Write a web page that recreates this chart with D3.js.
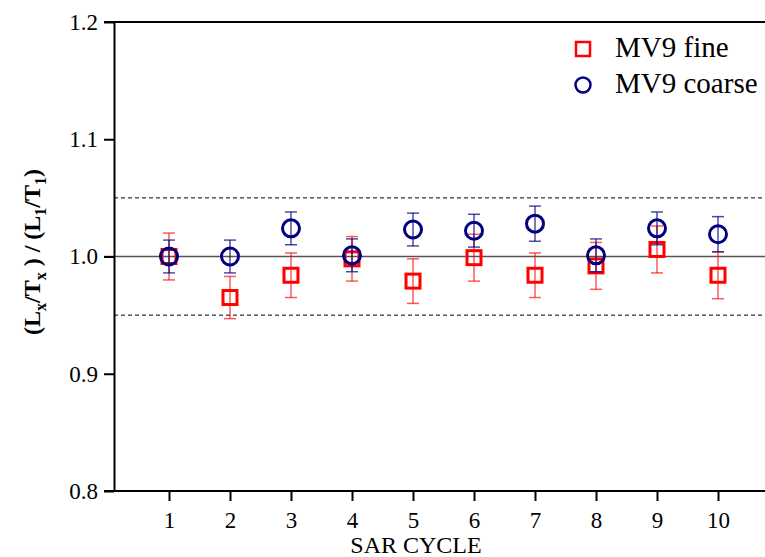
<!DOCTYPE html>
<html>
<head>
<meta charset="utf-8">
<script src="https://cdn.jsdelivr.net/npm/d3@7/dist/d3.min.js"></script>
<style>
  html, body { margin: 0; padding: 0; background: #fff; }
  svg { display: block; }
</style>
</head>
<body>
<svg id="chart" width="765" height="557"></svg>
<script>
// ---- data ----
const cycles = [1, 2, 3, 4, 5, 6, 7, 8, 9, 10];
const fineValues = [1.000, 0.965, 0.984, 0.998, 0.979, 0.999, 0.984, 0.992, 1.006, 0.984];
const fineErrors = [0.020, 0.018, 0.019, 0.019, 0.019, 0.020, 0.019, 0.020, 0.020, 0.020];
const coarseValues = [1.000, 1.000, 1.024, 1.001, 1.023, 1.022, 1.028, 1.001, 1.024, 1.019];
const coarseErrors = [0.014, 0.014, 0.014, 0.014, 0.014, 0.014, 0.015, 0.014, 0.014, 0.015];
const yTicks = [0.8, 0.9, 1.0, 1.1, 1.2];
const xTicks = [1, 2, 3, 4, 5, 6, 7, 8, 9, 10];
const seriesNames = ["MV9 fine", "MV9 coarse"];
const refLine = 1.0;
const bandLines = [0.95, 1.05];

(function () {
const FONT = "'Liberation Serif', 'Times New Roman', 'DejaVu Serif', serif";
const svg = d3.select("#chart");
const pLeft = 114, pRight = 765, pTop = 22, pBottom = 491;
const x = d3.scaleLinear().domain([0, 10]).range([108, 718]);
const y = d3.scaleLinear().domain([0.8, 1.2]).range([pBottom, pTop]);
const RED = "#ff0000", NAVY = "#000080";

// reference lines
svg.selectAll("line.band").data(bandLines).enter().append("line")
  .attr("x1", pLeft).attr("x2", pRight)
  .attr("y1", d => y(d)).attr("y2", d => y(d))
  .attr("stroke", "#000").attr("stroke-width", 1)
  .attr("stroke-dasharray", "4,3");
svg.append("line")
  .attr("x1", pLeft - 10).attr("x2", pRight)
  .attr("y1", y(refLine)).attr("y2", y(refLine))
  .attr("stroke", "#555").attr("stroke-width", 1.5);

// axes
const yAxis = d3.axisLeft(y).tickValues(yTicks).tickFormat(d3.format(".1f"))
  .tickSize(10).tickSizeOuter(0).tickPadding(6);
const gy = svg.append("g").attr("transform", `translate(${pLeft},0)`).call(yAxis);
gy.attr("font-family", null);
gy.select(".domain").attr("stroke-width", 2);
gy.selectAll(".tick line").attr("stroke-width", 2);
gy.selectAll(".tick text").style("font-family", FONT).style("font-size", "23px").attr("fill", "#000");

const xAxis = d3.axisBottom(x).tickValues(xTicks).tickFormat(d3.format("d"))
  .tickSize(10).tickSizeOuter(0).tickPadding(11);
const gx = svg.append("g").attr("transform", `translate(0,${pBottom})`).call(xAxis);
gx.attr("font-family", null);
gx.select(".domain").remove();
gx.selectAll(".tick line").attr("stroke-width", 2);
gx.selectAll(".tick text").style("font-family", FONT).style("font-size", "23px").attr("fill", "#000");

// frame lines (top, bottom)
svg.append("line").attr("x1", pLeft - 10).attr("x2", pRight)
  .attr("y1", pTop).attr("y2", pTop).attr("stroke", "#000").attr("stroke-width", 2);
svg.append("line").attr("x1", pLeft - 10).attr("x2", pRight)
  .attr("y1", pBottom).attr("y2", pBottom).attr("stroke", "#000").attr("stroke-width", 2);

// axis titles
svg.append("text").attr("x", 416).attr("y", 553).attr("text-anchor", "middle")
  .style("font-family", FONT).style("font-size", "24px").text("SAR CYCLE");

const yl = svg.append("text")
  .attr("transform", "translate(40,252) rotate(-90)")
  .attr("text-anchor", "middle")
  .style("font-family", FONT).style("font-size", "24px").style("font-weight", "bold");
const parts = [["(L", 0], ["x", 1], ["/T", 0], ["x", 1], [" ) / (L", 0], ["1", 1], ["/T", 0], ["1", 1], [")", 0]];
let shifted = false;
parts.forEach(([t, sub]) => {
  const ts = yl.append("tspan").text(t);
  if (sub) { ts.style("font-size", "16px").attr("dy", shifted ? 0 : 6); shifted = true; }
  else { if (shifted) ts.attr("dy", -6); shifted = false; }
});

// series
const fineData = cycles.map((c, i) => ({ c, v: fineValues[i], e: fineErrors[i] }));
const coarseData = cycles.map((c, i) => ({ c, v: coarseValues[i], e: coarseErrors[i] }));

function errorBars(data, color, opacity) {
  const g = svg.append("g").attr("stroke", color).attr("stroke-width", 1.5).attr("stroke-opacity", opacity);
  g.selectAll("line.v").data(data).enter().append("line")
    .attr("x1", d => x(d.c)).attr("x2", d => x(d.c))
    .attr("y1", d => y(d.v - d.e)).attr("y2", d => y(d.v + d.e));
  g.selectAll("line.t").data(data).enter().append("line")
    .attr("x1", d => x(d.c) - 6).attr("x2", d => x(d.c) + 6)
    .attr("y1", d => y(d.v + d.e)).attr("y2", d => y(d.v + d.e));
  g.selectAll("line.b").data(data).enter().append("line")
    .attr("x1", d => x(d.c) - 6).attr("x2", d => x(d.c) + 6)
    .attr("y1", d => y(d.v - d.e)).attr("y2", d => y(d.v - d.e));
}

errorBars(fineData, RED, 0.65);
svg.append("g").selectAll("rect").data(fineData).enter().append("rect")
  .attr("x", d => x(d.c) - 7).attr("y", d => y(d.v) - 7)
  .attr("width", 14).attr("height", 14)
  .attr("fill", "none").attr("stroke", RED).attr("stroke-width", 3);

errorBars(coarseData, NAVY, 0.7);
svg.append("g").selectAll("circle").data(coarseData).enter().append("circle")
  .attr("cx", d => x(d.c)).attr("cy", d => y(d.v)).attr("r", 8.5)
  .attr("fill", "none").attr("stroke", NAVY).attr("stroke-width", 3);

// legend
const lg = svg.append("g");
lg.append("rect").attr("x", 583 - 7).attr("y", 49 - 7).attr("width", 14).attr("height", 14)
  .attr("fill", "none").attr("stroke", RED).attr("stroke-width", 2.5);
lg.append("circle").attr("cx", 583).attr("cy", 85).attr("r", 7.5)
  .attr("fill", "none").attr("stroke", NAVY).attr("stroke-width", 2.5);
lg.append("text").attr("x", 615).attr("y", 57).style("font-family", FONT).style("font-size", "29px").text(seriesNames[0]);
lg.append("text").attr("x", 615).attr("y", 93).style("font-family", FONT).style("font-size", "29px").text(seriesNames[1]);
})();
</script>
</body>
</html>
